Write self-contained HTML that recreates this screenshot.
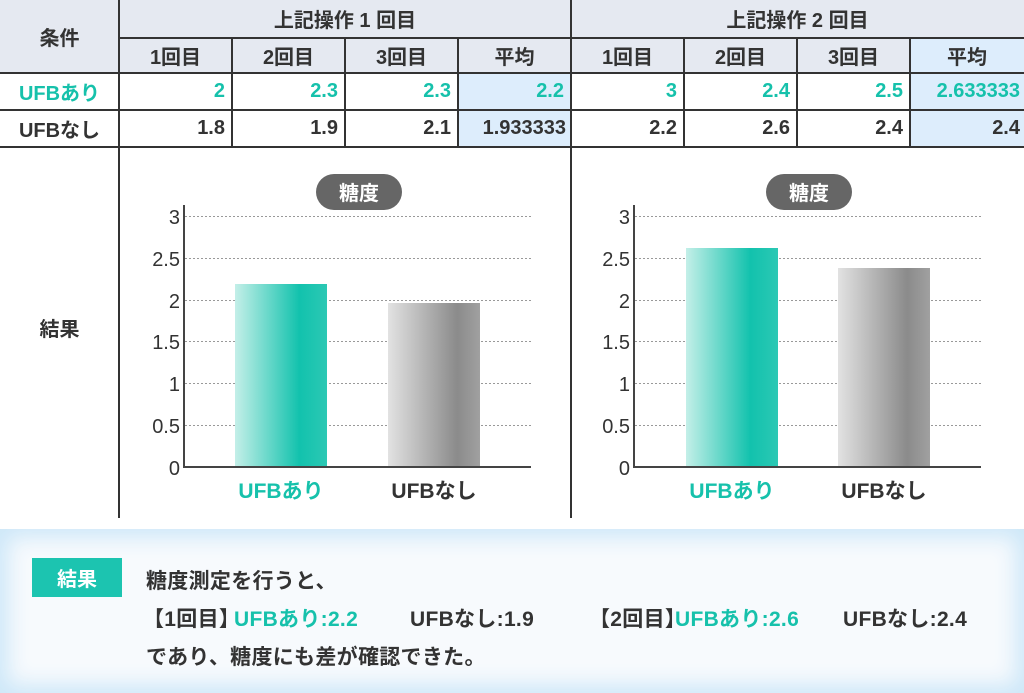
<!DOCTYPE html>
<html><head><meta charset="utf-8"><style>
body{margin:0;width:1024px;height:693px;background:#fff;font-family:"Liberation Sans","Noto Sans CJK JP",sans-serif;font-weight:bold;color:#333;position:relative;overflow:hidden}
.c{position:absolute;box-sizing:border-box;display:flex;align-items:center;font-size:20px}
.r{justify-content:flex-end;padding-right:2px}
.t{color:#16c1ab}
.hl{position:absolute;background:#333}
.s{position:absolute;font-size:21px;white-space:nowrap;letter-spacing:0.3px}
</style></head><body>
<div class="c" style="left:0;top:0;width:1024px;height:73px;background:#e5e9f1"></div>
<div class="c" style="left:458px;top:73px;width:113px;height:74px;background:#ddedfc"></div>
<div class="c" style="left:910px;top:37px;width:114px;height:110px;background:#ddedfc"></div>
<div class="hl" style="left:119px;top:37px;width:905px;height:2px"></div>
<div class="hl" style="left:0;top:72px;width:1024px;height:2px"></div>
<div class="hl" style="left:0;top:109px;width:1024px;height:2px"></div>
<div class="hl" style="left:0;top:146px;width:1024px;height:2px"></div>
<div class="hl" style="left:118px;top:0;width:2px;height:518px"></div>
<div class="hl" style="left:570px;top:0;width:2px;height:518px"></div>
<div class="hl" style="left:231px;top:37px;width:2px;height:110px"></div>
<div class="hl" style="left:344px;top:37px;width:2px;height:110px"></div>
<div class="hl" style="left:457px;top:37px;width:2px;height:110px"></div>
<div class="hl" style="left:683px;top:37px;width:2px;height:110px"></div>
<div class="hl" style="left:796px;top:37px;width:2px;height:110px"></div>
<div class="hl" style="left:909px;top:37px;width:2px;height:110px"></div>
<div class="c" style="left:0;top:0;width:119px;height:73px;justify-content:center">条件</div>
<div class="c" style="left:119px;top:0;width:452px;height:37px;justify-content:center">上記操作 1 回目</div>
<div class="c" style="left:571px;top:0;width:453px;height:37px;justify-content:center">上記操作 2 回目</div>
<div class="c" style="left:119px;top:37px;width:113px;height:37px;justify-content:center">1回目</div>
<div class="c" style="left:232px;top:37px;width:113px;height:37px;justify-content:center">2回目</div>
<div class="c" style="left:345px;top:37px;width:113px;height:37px;justify-content:center">3回目</div>
<div class="c" style="left:458px;top:37px;width:113px;height:37px;justify-content:center">平均</div>
<div class="c" style="left:571px;top:37px;width:113px;height:37px;justify-content:center">1回目</div>
<div class="c" style="left:684px;top:37px;width:113px;height:37px;justify-content:center">2回目</div>
<div class="c" style="left:797px;top:37px;width:113px;height:37px;justify-content:center">3回目</div>
<div class="c" style="left:910px;top:37px;width:114px;height:37px;justify-content:center">平均</div>
<div class="c t" style="left:0;top:73px;width:119px;height:37px;justify-content:center">UFBあり</div>
<div class="c" style="left:0;top:110px;width:119px;height:37px;justify-content:center">UFBなし</div>
<div class="c t r" style="left:119px;top:73px;width:108px;height:37px">2</div>
<div class="c t r" style="left:232px;top:73px;width:108px;height:37px">2.3</div>
<div class="c t r" style="left:345px;top:73px;width:108px;height:37px">2.3</div>
<div class="c t r" style="left:458px;top:73px;width:108px;height:37px">2.2</div>
<div class="c t r" style="left:571px;top:73px;width:108px;height:37px">3</div>
<div class="c t r" style="left:684px;top:73px;width:108px;height:37px">2.4</div>
<div class="c t r" style="left:797px;top:73px;width:108px;height:37px">2.5</div>
<div class="c t r" style="left:910px;top:73px;width:112px;height:37px">2.633333</div>
<div class="c r" style="left:119px;top:110px;width:108px;height:37px">1.8</div>
<div class="c r" style="left:232px;top:110px;width:108px;height:37px">1.9</div>
<div class="c r" style="left:345px;top:110px;width:108px;height:37px">2.1</div>
<div class="c r" style="left:458px;top:110px;width:110px;height:37px">1.933333</div>
<div class="c r" style="left:571px;top:110px;width:108px;height:37px">2.2</div>
<div class="c r" style="left:684px;top:110px;width:108px;height:37px">2.6</div>
<div class="c r" style="left:797px;top:110px;width:108px;height:37px">2.4</div>
<div class="c r" style="left:910px;top:110px;width:112px;height:37px">2.4</div>
<div class="c" style="left:0;top:147px;width:119px;height:360px;justify-content:center">結果</div>

<svg width="1024" height="693" style="position:absolute;left:0;top:0" font-family="Liberation Sans,Noto Sans CJK JP,sans-serif" font-weight="bold">
<defs>
<linearGradient id="g1" x1="0" x2="1"><stop offset="0" stop-color="#c4efe8"/><stop offset="0.7" stop-color="#12c2ad"/><stop offset="1" stop-color="#2cc8b4"/></linearGradient>
<linearGradient id="g2" x1="0" x2="1"><stop offset="0" stop-color="#e2e2e2"/><stop offset="0.75" stop-color="#8b8b8b"/><stop offset="1" stop-color="#a0a0a0"/></linearGradient>
</defs>
<g>
<g stroke="#999" stroke-dasharray="2,2" stroke-width="1">
<line x1="185" x2="532" y1="216.5" y2="216.5"/><line x1="185" x2="532" y1="258.5" y2="258.5"/><line x1="185" x2="532" y1="300.5" y2="300.5"/><line x1="185" x2="532" y1="341.5" y2="341.5"/><line x1="185" x2="532" y1="383.5" y2="383.5"/><line x1="185" x2="532" y1="425.5" y2="425.5"/>
</g>
<rect x="235" y="284" width="92" height="183" fill="url(#g1)"/>
<rect x="388" y="303" width="92" height="164" fill="url(#g2)"/>
<path d="M184 205V467H531" stroke="#444" stroke-width="2" fill="none"/>
<g font-size="20" fill="#333" text-anchor="end" font-weight="normal">
<text x="180" y="224">3</text><text x="180" y="266">2.5</text><text x="180" y="308">2</text><text x="180" y="349">1.5</text><text x="180" y="391">1</text><text x="180" y="433">0.5</text><text x="180" y="475">0</text></g>
<rect x="316" y="174" width="86" height="36" rx="18" fill="#666"/>
<text x="359" y="200" fill="#fff" font-size="20" text-anchor="middle">糖度</text>
<text x="281" y="498" font-size="21" fill="#16c1ab" text-anchor="middle">UFBあり</text>
<text x="434" y="498" font-size="21" fill="#333" text-anchor="middle">UFBなし</text>
</g>
<g transform="translate(450,0)">
<g stroke="#999" stroke-dasharray="2,2" stroke-width="1">
<line x1="185" x2="532" y1="216.5" y2="216.5"/><line x1="185" x2="532" y1="258.5" y2="258.5"/><line x1="185" x2="532" y1="300.5" y2="300.5"/><line x1="185" x2="532" y1="341.5" y2="341.5"/><line x1="185" x2="532" y1="383.5" y2="383.5"/><line x1="185" x2="532" y1="425.5" y2="425.5"/>
</g>
<rect x="236" y="248" width="92" height="219" fill="url(#g1)"/>
<rect x="388" y="268" width="92" height="199" fill="url(#g2)"/>
<path d="M184 205V467H531" stroke="#444" stroke-width="2" fill="none"/>
<g font-size="20" fill="#333" text-anchor="end" font-weight="normal">
<text x="180" y="224">3</text><text x="180" y="266">2.5</text><text x="180" y="308">2</text><text x="180" y="349">1.5</text><text x="180" y="391">1</text><text x="180" y="433">0.5</text><text x="180" y="475">0</text></g>
<rect x="316" y="174" width="86" height="36" rx="18" fill="#666"/>
<text x="359" y="200" fill="#fff" font-size="20" text-anchor="middle">糖度</text>
<text x="282" y="498" font-size="21" fill="#16c1ab" text-anchor="middle">UFBあり</text>
<text x="434" y="498" font-size="21" fill="#333" text-anchor="middle">UFBなし</text>
</g>
</svg>

<div style="position:absolute;left:0;top:529px;width:1024px;height:164px;background:#f7fafd;box-shadow:inset 0 0 22px 8px #cde7f8"></div>
<div class="c" style="left:32px;top:558px;width:90px;height:39px;background:#1cc4b0;color:#fff;justify-content:center;font-size:20px">結果</div>
<div class="s" style="left:146px;top:565px">糖度測定を行うと、</div>
<div class="s" style="left:143px;top:603px">【1回目】</div>
<div class="s t" style="left:234px;top:603px">UFBあり:2.2</div>
<div class="s" style="left:410px;top:603px">UFBなし:1.9</div>
<div class="s" style="left:589px;top:603px">【2回目】</div>
<div class="s t" style="left:675px;top:603px">UFBあり:2.6</div>
<div class="s" style="left:843px;top:603px">UFBなし:2.4</div>
<div class="s" style="left:146px;top:641px">であり、糖度にも差が確認できた。</div>
</body></html>
